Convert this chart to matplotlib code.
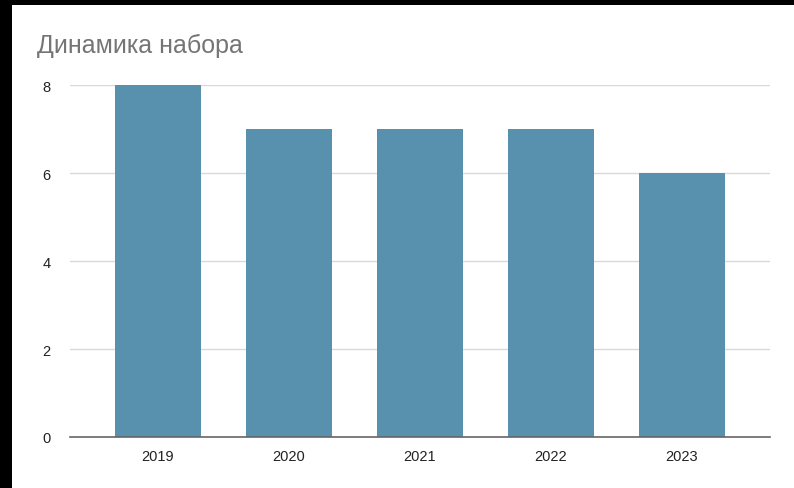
import matplotlib.pyplot as plt
from matplotlib.patches import Rectangle

# data
years = ["2019", "2020", "2021", "2022", "2023"]
values = [8, 7, 7, 7, 6]
y_ticks = [0, 2, 4, 6, 8]

W, H = 794, 489
plt.rcParams['font.family'] = ['Liberation Sans', 'DejaVu Sans']

fig = plt.figure(figsize=(W / 100, H / 100), dpi=100, facecolor="black")
# white card, black strip on top and left like the screenshot
fig.patches.append(Rectangle((12 / W, 0), 1 - 12 / W, 1 - 6 / H,
                             transform=fig.transFigure, facecolor="white",
                             edgecolor="none", zorder=-5))

ax = fig.add_axes([70 / W, 51 / H, 700 / W, (438 - 86) / H])
ax.set_zorder(2)
ax.set_facecolor("none")

x = list(range(len(years)))
ax.bar(x, values, width=0.65, color="#5891ad", zorder=3)

ax.set_xlim(-0.672, len(years) - 1 + 0.672)
ax.set_ylim(0, 8)
ax.set_yticks(y_ticks)
ax.set_xticks(x)
ax.set_xticklabels(years)
ax.tick_params(axis="both", length=0, labelsize=10.5, labelcolor="#222222")
ax.tick_params(axis="y", pad=14)
ax.tick_params(axis="x", pad=9)
ax.grid(axis="y", color="#d9d9d9", linewidth=1, zorder=0)

for s in ["top", "right", "left"]:
    ax.spines[s].set_visible(False)
ax.spines["bottom"].set_color("#666666")
ax.spines["bottom"].set_linewidth(1.2)
ax.spines["bottom"].set_zorder(4)

fig.text(37 / W, 1 - 46 / H, "Динамика набора", fontsize=18, color="#757575",
         va="center", ha="left", zorder=3)

fig.savefig("out.png", dpi=100, facecolor=fig.get_facecolor())
